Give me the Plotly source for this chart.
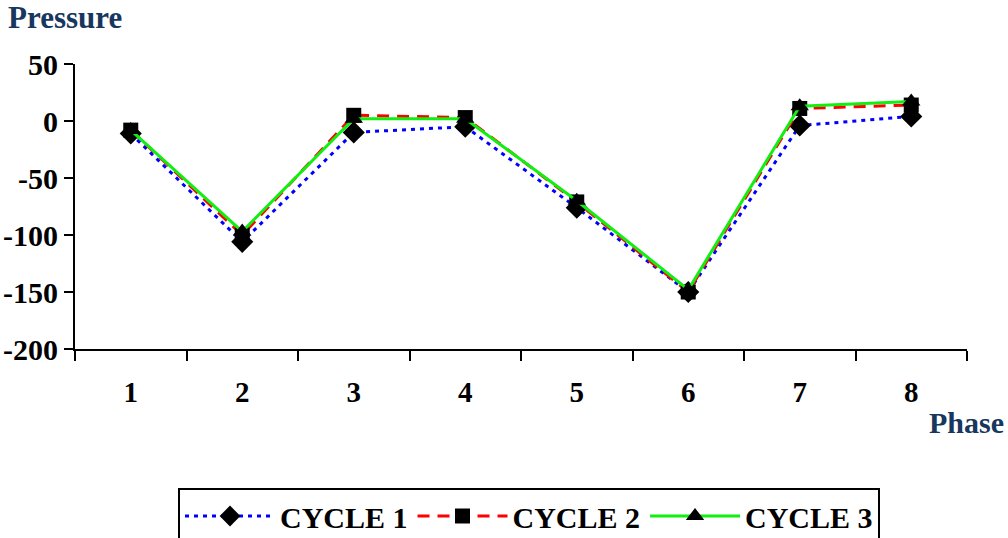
import plotly.graph_objects as go

# Phase categories and pressure readings for each cycle
phases = ["1", "2", "3", "4", "5", "6", "7", "8"]
cycle1 = [-11, -106, -10, -5, -76, -150, -4, 4]
cycle2 = [-8, -100, 5, 3, -71, -150, 11, 14]
cycle3 = [-8, -97, 2, 2, -70, -148, 13, 17]

y_ticks = [-200, -150, -100, -50, 0, 50]
y_tick_text = ["-200", "-150", "-100", "-50", "0", "50"]

SERIF = "Liberation Serif, Times New Roman, serif"
NAVY = "#17375E"

fig = go.Figure()

fig.add_trace(go.Scatter(
    x=phases, y=cycle1, name="CYCLE 1", mode="lines+markers",
    line=dict(color="#0000FF", width=3, dash="4px,5px"),
    marker=dict(symbol="diamond", size=17, color="black"),
))
fig.add_trace(go.Scatter(
    x=phases, y=cycle2, name="CYCLE 2", mode="lines+markers",
    line=dict(color="#FF0000", width=3, dash="12px,8px"),
    marker=dict(symbol="square", size=15, color="black"),
))
fig.add_trace(go.Scatter(
    x=phases, y=cycle3, name="CYCLE 3", mode="lines+markers",
    line=dict(color="#11EE11", width=3),
    marker=dict(symbol="triangle-up", size=16, color="black"),
))

fig.update_layout(
    width=1008, height=538,
    margin=dict(l=75, r=41, t=64, b=189),
    paper_bgcolor="white", plot_bgcolor="white",
    font=dict(family=SERIF, size=29, color="black", weight="bold"),
    title=dict(
        text="Pressure", xref="container", yref="container",
        x=8 / 1008, y=1 - 6 / 538, xanchor="left", yanchor="top",
        font=dict(family=SERIF, size=31, color=NAVY, weight="bold"),
    ),
    showlegend=True,
    legend=dict(
        orientation="h", xref="container", yref="container",
        x=529 / 1008, xanchor="center", y=1 - 488 / 538, yanchor="top",
        bordercolor="black", borderwidth=2, bgcolor="white",
        font=dict(family=SERIF, size=30, color="black", weight="bold"),
        itemwidth=90,
    ),
)

fig.update_xaxes(
    type="category", range=[-0.5, 7.5], automargin=False,
    showline=True, linecolor="black", linewidth=2,
    ticks="outside", ticklen=10, tickwidth=2, tickcolor="black",
    tickson="boundaries", showgrid=False, zeroline=False,
    ticklabelstandoff=16,
    tickfont=dict(family=SERIF, size=29, color="black", weight="bold"),
)
fig.update_yaxes(
    range=[-200, 50], tickvals=y_ticks, ticktext=y_tick_text, automargin=False,
    showline=True, linecolor="black", linewidth=2,
    ticks="outside", ticklen=9, tickwidth=2, tickcolor="black",
    showgrid=False, zeroline=False,
    tickfont=dict(family=SERIF, size=30, color="black", weight="bold"),
)

fig.add_annotation(
    text="Phase", xref="paper", yref="paper",
    x=(1006 - 75) / 892, y=-(404 - 349) / 285, xanchor="right", yanchor="top",
    showarrow=False,
    font=dict(family=SERIF, size=30, color=NAVY, weight="bold"),
)

fig.write_html("out.html")
